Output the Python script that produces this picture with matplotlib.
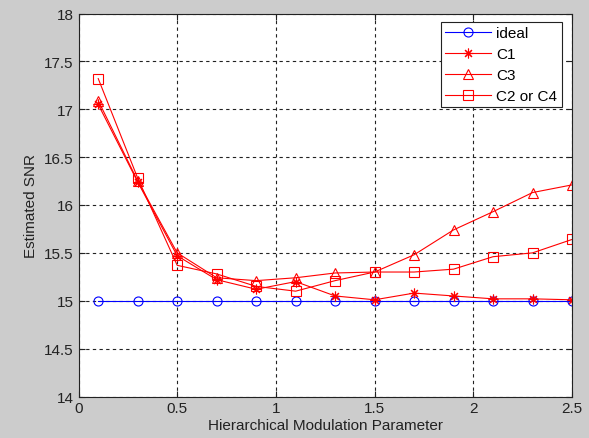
import matplotlib
matplotlib.use("Agg")
import matplotlib.pyplot as plt

# data
x = [0.1, 0.3, 0.5, 0.7, 0.9, 1.1, 1.3, 1.5, 1.7, 1.9, 2.1, 2.3, 2.5]
ideal = [15.0] * 13
c1 = [17.05, 16.24, 15.47, 15.22, 15.12, 15.20, 15.05, 15.01, 15.08, 15.05, 15.02, 15.02, 15.01]
c3 = [17.09, 16.25, 15.50, 15.24, 15.21, 15.24, 15.29, 15.30, 15.48, 15.74, 15.93, 16.13, 16.21]
c24 = [17.32, 16.28, 15.37, 15.28, 15.15, 15.10, 15.21, 15.30, 15.30, 15.33, 15.46, 15.50, 15.64]

xticks = [0, 0.5, 1, 1.5, 2, 2.5]
yticks = [14, 14.5, 15, 15.5, 16, 16.5, 17, 17.5, 18]
ytick_labels = ["14", "14.5", "15", "15.5", "16", "16.5", "17", "17.5", "18"]

plt.rcParams['font.family'] = ['Liberation Sans', 'DejaVu Sans']

fig = plt.figure(figsize=(5.89, 4.39), dpi=100, facecolor='#cccccc')
ax = fig.add_axes([78.5 / 589, 41.5 / 439, 493.5 / 589, 383 / 439])
ax.set_facecolor('white')

star = (8, 2, 0)
ax.plot(x, ideal, color='#0000ff', lw=0.8, marker='o', ms=6.5, mfc='none', mew=0.8, label='ideal')
ax.plot(x, c1, color='#ff0000', lw=0.8, marker=star, ms=7, mew=0.8, label='C1')
ax.plot(x, c3, color='#ff0000', lw=0.8, marker='^', ms=7.5, mfc='none', mew=0.8, label='C3')
ax.plot(x, c24, color='#ff0000', lw=0.8, marker='s', ms=7, mfc='none', mew=0.8, label='C2 or C4')

ax.set_xlim(0, 2.5)
ax.set_ylim(14, 18)
ax.set_xticks(xticks)
ax.set_xticklabels(["0", "0.5", "1", "1.5", "2", "2.5"])
ax.set_yticks(yticks)
ax.set_yticklabels(ytick_labels)
ax.tick_params(direction='in', length=4, top=True, right=True, labelsize=11,
               colors='#222222', width=0.8)
ax.grid(True, color='#222222', linestyle=(0, (3, 3)), linewidth=0.8)
for s in ax.spines.values():
    s.set_color('#222222')
    s.set_linewidth(0.8)

ax.set_xlabel('Hierarchical Modulation Parameter', fontsize=11, color='#222222', labelpad=2)
ax.set_ylabel('Estimated SNR', fontsize=11, color='#222222', labelpad=4)

leg = ax.legend(loc='upper right', bbox_to_anchor=(0.9797, 0.9786), borderaxespad=0,
                fontsize=11, fancybox=False, framealpha=1, edgecolor='#222222',
                handlelength=3.0, borderpad=0.3, labelspacing=0.45, handletextpad=0.35)
leg.get_frame().set_linewidth(0.8)

fig.savefig('out.png', dpi=100, facecolor=fig.get_facecolor())
